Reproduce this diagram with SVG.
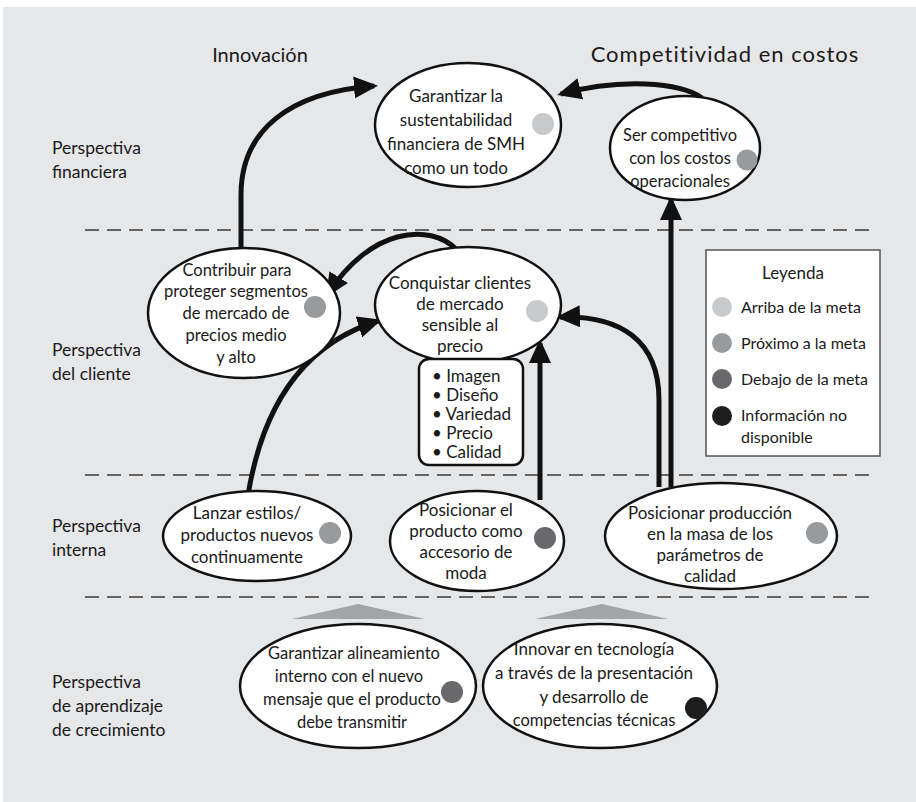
<svg xmlns="http://www.w3.org/2000/svg" width="916" height="802" viewBox="0 0 916 802">
<defs>
<marker id="ah" markerUnits="userSpaceOnUse" markerWidth="24" markerHeight="22" refX="20" refY="11" orient="auto">
<path d="M0,0 L24,11 L0,22 z" fill="#111"/>
</marker>
<style>
text{font-family:Lato,"Open Sans","Liberation Sans",sans-serif;fill:#1a1a1a}
.t{font-size:17px;text-anchor:middle}
.s{font-size:16.5px}
.h{font-size:21px;text-anchor:middle}
.r{font-size:17.5px}
.l{font-size:16px}
.e{fill:#fff;stroke:#111;stroke-width:2.5}
.d{stroke:#3a3a3a;stroke-width:1.5;stroke-dasharray:14 8;fill:none}
.c{fill:none;stroke:#111;stroke-width:5;marker-end:url(#ah)}
.g1{fill:#c8c9cb}.g2{fill:#999a9c}.g3{fill:#69696b}.g4{fill:#1e1e1e}
</style>
</defs>
<rect x="3" y="7" width="913" height="795" fill="#e6e7e9"/>
<g id="headers">
<text class="h" x="260" y="62" style="font-size:20px">Innovación</text>
<text class="h" x="725" y="62" style="font-size:22px;letter-spacing:1px">Competitividad en costos</text>
</g>
<g id="rows">
<text class="r" x="52" y="154">Perspectiva</text>
<text class="r" x="52" y="178">financiera</text>
<text class="r" x="52" y="356">Perspectiva</text>
<text class="r" x="52" y="380">del cliente</text>
<text class="r" x="52" y="532">Perspectiva</text>
<text class="r" x="52" y="556">interna</text>
<text class="r" x="52" y="688">Perspectiva</text>
<text class="r" x="52" y="712">de aprendizaje</text>
<text class="r" x="52" y="736">de crecimiento</text>
</g>
<g id="dividers">
<line class="d" x1="85" y1="230" x2="870" y2="230"/>
<line class="d" x1="85" y1="475" x2="870" y2="475"/>
<line class="d" x1="85" y1="597" x2="870" y2="597"/>
</g>
<g id="arrows-up">
<polygon points="292,619 358,604 425,619" fill="#a3a4a6"/>
<polygon points="535,619 602,604 668,619" fill="#a3a4a6"/>
</g>
<g id="connectors">
<path class="c" d="M241,250 L241,195 C241,130 290,92 374,86"/>
<path class="c" d="M702,98 C680,82 620,78 561,94"/>
<path class="c" d="M457,250 C430,222 370,228 328,294"/>
<path class="c" d="M248,495 C262,410 300,345 378,321"/>
<path class="c" d="M540,500 L540,343"/>
<path class="c" d="M659,487 L659,400 C659,340 620,315 560,317"/>
<path class="c" d="M671,487 L671,200"/>
</g>
<g id="n1">
<ellipse class="e" cx="468" cy="125" rx="93" ry="62"/>
<text class="t" x="456" y="102">Garantizar la</text>
<text class="t" x="456" y="126">sustentabilidad</text>
<text class="t" x="456" y="150">financiera de SMH</text>
<text class="t" x="456" y="174">como un todo</text>
<circle class="g1" cx="543" cy="124" r="11"/>
</g>
<g id="n2">
<ellipse class="e" cx="685" cy="148" rx="75" ry="52"/>
<text class="t s" x="680" y="141">Ser competitivo</text>
<text class="t s" x="680" y="164">con los costos</text>
<text class="t s" x="680" y="187">operacionales</text>
<circle class="g2" cx="747" cy="160" r="10.5"/>
</g>
<g id="n3">
<ellipse class="e" cx="244" cy="313" rx="96" ry="65"/>
<text class="t s" x="237" y="276">Contribuir para</text>
<text class="t s" x="236" y="297">proteger segmentos</text>
<text class="t s" x="236" y="319">de mercado de</text>
<text class="t s" x="236" y="341">precios medio</text>
<text class="t s" x="236" y="363">y alto</text>
<circle class="g2" cx="315" cy="307" r="11"/>
</g>
<g id="n4">
<ellipse class="e" cx="468" cy="305" rx="93" ry="58"/>
<text class="t" x="460" y="289">Conquistar clientes</text>
<text class="t" x="460" y="310">de mercado</text>
<text class="t" x="460" y="331">sensible al</text>
<text class="t" x="460" y="352">precio</text>
<circle class="g1" cx="537" cy="311" r="11"/>
</g>
<g id="n4-attrs">
<rect x="419" y="359" width="104" height="106" rx="10" fill="#fff" stroke="#111" stroke-width="2.5"/>
<text x="432" y="382" style="font-size:17px">• Imagen</text>
<text x="432" y="401" style="font-size:17px">• Diseño</text>
<text x="432" y="420" style="font-size:17px">• Variedad</text>
<text x="432" y="439" style="font-size:17px">• Precio</text>
<text x="432" y="458" style="font-size:17px">• Calidad</text>
</g>
<g id="legend">
<rect x="706" y="250" width="174" height="206" fill="#fff" stroke="#555" stroke-width="1.5"/>
<text class="t" x="793" y="279">Leyenda</text>
<circle class="g1" cx="722" cy="307" r="10"/>
<text class="l" x="741" y="313">Arriba de la meta</text>
<circle class="g2" cx="722" cy="343" r="10"/>
<text class="l" x="741" y="349">Próximo a la meta</text>
<circle class="g3" cx="722" cy="379" r="10"/>
<text class="l" x="741" y="385">Debajo de la meta</text>
<circle class="g4" cx="722" cy="416" r="10"/>
<text class="l" x="741" y="421">Información no</text>
<text class="l" x="741" y="443">disponible</text>
</g>
<g id="n5">
<ellipse class="e" cx="257" cy="536" rx="94" ry="45"/>
<text class="t" x="247" y="519">Lanzar estilos/</text>
<text class="t" x="247" y="541">productos nuevos</text>
<text class="t" x="247" y="563">continuamente</text>
<circle class="g2" cx="330" cy="533" r="11"/>
</g>
<g id="n6">
<ellipse class="e" cx="477" cy="541" rx="87" ry="50"/>
<text class="t" x="466" y="516">Posicionar el</text>
<text class="t" x="466" y="537">producto como</text>
<text class="t" x="466" y="558">accesorio de</text>
<text class="t" x="466" y="579">moda</text>
<circle class="g3" cx="545" cy="538" r="11"/>
</g>
<g id="n7">
<ellipse class="e" cx="721" cy="536" rx="116" ry="53"/>
<text class="t" x="710" y="519">Posicionar producción</text>
<text class="t" x="710" y="540">en la masa de los</text>
<text class="t" x="710" y="561">parámetros de</text>
<text class="t" x="710" y="582">calidad</text>
<circle class="g2" cx="817" cy="533" r="11"/>
</g>
<g id="n8">
<ellipse class="e" cx="358" cy="686" rx="118" ry="62"/>
<text class="t s" x="354" y="659">Garantizar alineamiento</text>
<text class="t s" x="349" y="682">interno con el nuevo</text>
<text class="t s" x="352" y="705">mensaje que el producto</text>
<text class="t s" x="352" y="728">debe transmitir</text>
<circle class="g3" cx="452" cy="692" r="11"/>
</g>
<g id="n9">
<ellipse class="e" cx="600" cy="686" rx="117" ry="62"/>
<text class="t" x="594" y="655">Innovar en tecnología</text>
<text class="t" x="594" y="679">a través de la presentación</text>
<text class="t" x="594" y="703">y desarrollo de</text>
<text class="t s" x="594" y="726">competencias técnicas</text>
<circle class="g4" cx="696" cy="708" r="11"/>
</g>
</svg>
